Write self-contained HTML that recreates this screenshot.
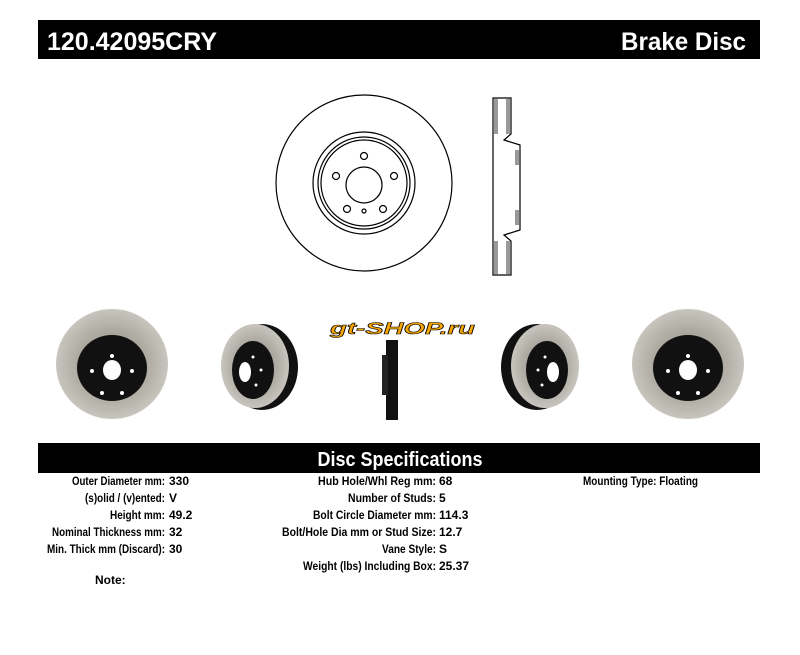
<!DOCTYPE html>
<html><head><style>
html,body{margin:0;padding:0;background:#fff;}
svg{display:block;}
text{font-family:"Liberation Sans",Arial,sans-serif;font-weight:bold;}
</style></head><body>
<svg width="800" height="655" viewBox="0 0 800 655" xmlns="http://www.w3.org/2000/svg">
<defs>
<radialGradient id="g1" cx="50%" cy="50%" r="50%">
<stop offset="0.55" stop-color="#a9a69e"/><stop offset="1" stop-color="#c8c5be"/></radialGradient>
</defs>
<rect x="38" y="20" width="722" height="39" fill="#000"/>
<text x="47" y="50" fill="#fff" font-size="25" textLength="170" lengthAdjust="spacingAndGlyphs">120.42095CRY</text>
<text x="746" y="50" fill="#fff" font-size="25" text-anchor="end" textLength="125" lengthAdjust="spacingAndGlyphs">Brake Disc</text>

<g fill="none" stroke="#000" stroke-width="1.2">
<circle cx="364" cy="183" r="88"/>
<circle cx="364" cy="183" r="51"/>
<circle cx="364" cy="183" r="46"/>
<circle cx="364" cy="183" r="43"/>
<circle cx="364" cy="185" r="18"/>
<circle cx="364" cy="156" r="3.5"/>
<circle cx="336" cy="176" r="3.5"/>
<circle cx="394" cy="176" r="3.5"/>
<circle cx="347" cy="209" r="3.5"/>
<circle cx="383" cy="209" r="3.5"/>
<circle cx="364" cy="211" r="2"/>
</g>
<g stroke="#000" stroke-width="1.2" fill="#fff">
<path d="M493,98 L511,98 L511,134 L504,140 L520,145 L520,230 L504,235 L511,241 L511,275 L493,275 Z"/>
</g>
<g fill="#999">
<rect x="494" y="99" width="4" height="35"/><rect x="506" y="99" width="4" height="35"/>
<rect x="494" y="241" width="4" height="33"/><rect x="506" y="241" width="4" height="33"/>
<rect x="515" y="150" width="4" height="15"/><rect x="515" y="210" width="4" height="15"/>
</g>

<text x="330" y="334" font-size="17" font-style="italic" fill="#f7a600" stroke="#000" stroke-width="0.6" textLength="145" lengthAdjust="spacingAndGlyphs">gt-SHOP.ru</text>

<ellipse cx="112" cy="364" rx="56" ry="55" fill="url(#g1)"/>
<ellipse cx="112" cy="368" rx="35" ry="33" fill="#111"/>
<ellipse cx="112" cy="370" rx="9" ry="10" fill="#fff"/>
<g fill="#fff"><circle cx="92" cy="371" r="2"/><circle cx="132" cy="371" r="2"/><circle cx="112" cy="356" r="2"/><circle cx="102" cy="393" r="2"/><circle cx="122" cy="393" r="2"/></g>

<ellipse cx="262" cy="367" rx="36" ry="43" fill="#111"/>
<ellipse cx="255" cy="366" rx="34" ry="42" fill="url(#g1)"/>
<ellipse cx="253" cy="370" rx="21" ry="29" fill="#111"/>
<ellipse cx="245" cy="372" rx="6" ry="10" fill="#fff"/>
<g fill="#fff"><circle cx="253" cy="357" r="1.5"/><circle cx="256" cy="385" r="1.5"/><circle cx="261" cy="370" r="1.5"/></g>

<rect x="386" y="340" width="12" height="80" fill="#111"/>
<rect x="382" y="355" width="6" height="40" fill="#222"/>

<ellipse cx="537" cy="367" rx="36" ry="43" fill="#111"/>
<ellipse cx="545" cy="366" rx="34" ry="42" fill="url(#g1)"/>
<ellipse cx="547" cy="370" rx="21" ry="29" fill="#111"/>
<ellipse cx="553" cy="372" rx="6" ry="10" fill="#fff"/>
<g fill="#fff"><circle cx="545" cy="357" r="1.5"/><circle cx="542" cy="385" r="1.5"/><circle cx="538" cy="370" r="1.5"/></g>

<ellipse cx="688" cy="364" rx="56" ry="55" fill="url(#g1)"/>
<ellipse cx="688" cy="368" rx="35" ry="33" fill="#111"/>
<ellipse cx="688" cy="370" rx="9" ry="10" fill="#fff"/>
<g fill="#fff"><circle cx="668" cy="371" r="2"/><circle cx="708" cy="371" r="2"/><circle cx="688" cy="356" r="2"/><circle cx="678" cy="393" r="2"/><circle cx="698" cy="393" r="2"/></g>

<rect x="38" y="443" width="722" height="30" fill="#000"/>
<text x="400" y="466" fill="#fff" font-size="20" text-anchor="middle" textLength="165" lengthAdjust="spacingAndGlyphs">Disc Specifications</text>
<g font-size="12">
<g text-anchor="end">
<text x="165" y="485" textLength="93" lengthAdjust="spacingAndGlyphs">Outer Diameter mm:</text>
<text x="165" y="502" textLength="80" lengthAdjust="spacingAndGlyphs">(s)olid / (v)ented:</text>
<text x="165" y="519" textLength="55" lengthAdjust="spacingAndGlyphs">Height mm:</text>
<text x="165" y="536" textLength="113" lengthAdjust="spacingAndGlyphs">Nominal Thickness mm:</text>
<text x="165" y="553" textLength="118" lengthAdjust="spacingAndGlyphs">Min. Thick mm (Discard):</text>
<text x="436" y="485" textLength="118" lengthAdjust="spacingAndGlyphs">Hub Hole/Whl Reg mm:</text>
<text x="436" y="502" textLength="88" lengthAdjust="spacingAndGlyphs">Number of Studs:</text>
<text x="436" y="519" textLength="123" lengthAdjust="spacingAndGlyphs">Bolt Circle Diameter mm:</text>
<text x="436" y="536" textLength="154" lengthAdjust="spacingAndGlyphs">Bolt/Hole Dia mm or Stud Size:</text>
<text x="436" y="553" textLength="54" lengthAdjust="spacingAndGlyphs">Vane Style:</text>
<text x="436" y="570" textLength="133" lengthAdjust="spacingAndGlyphs">Weight (lbs) Including Box:</text>
</g>
<text x="169" y="485">330</text><text x="169" y="502">V</text><text x="169" y="519">49.2</text>
<text x="169" y="536">32</text><text x="169" y="553">30</text>
<text x="439" y="485">68</text><text x="439" y="502">5</text><text x="439" y="519">114.3</text>
<text x="439" y="536">12.7</text><text x="439" y="553">S</text><text x="439" y="570">25.37</text>
<text x="583" y="485" textLength="115" lengthAdjust="spacingAndGlyphs">Mounting Type: Floating</text>
<text x="95" y="584" font-size="12">Note:</text>
</g>
</svg>
</body></html>
